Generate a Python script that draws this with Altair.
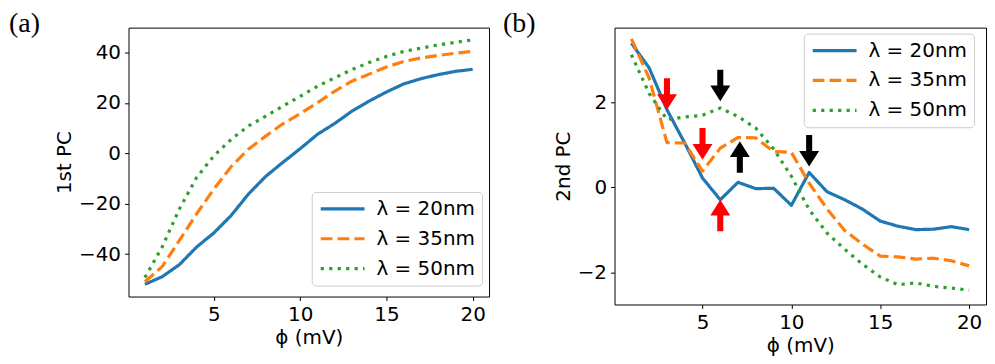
import altair as alt
import pandas as pd

phi = list(range(1, 21))
series_names = ["λ = 20nm", "λ = 35nm", "λ = 50nm"]
series_colors = ["#1f77b4", "#ff7f0e", "#2ca02c"]

pc1_20 = [-52, -49, -44.2, -37.2, -31.6, -24.7, -16.2, -9.2, -3.6, 1.8,
          7.5, 11.8, 16.7, 20.7, 24.3, 27.5, 29.6, 31.2, 32.5, 33.3]
pc1_35 = [-51, -45, -34.6, -24, -14.2, -5.3, 1.6, 6.8, 11.7, 15.7,
          20, 24.6, 28.6, 31.4, 34.2, 36.4, 37.8, 38.8, 39.7, 40.4]
pc1_50 = [-49.3, -37.2, -22.1, -9.6, -1, 5.5, 10.8, 14.7, 18.7, 22.6,
          26.6, 29.9, 33.2, 36, 38.4, 40.4, 41.7, 43, 44, 45]

pc2_20 = [3.38, 2.80, 1.82, 1.04, 0.22, -0.29, 0.12, -0.03, -0.02, -0.42,
          0.35, -0.1, -0.29, -0.51, -0.79, -0.91, -0.99, -0.98, -0.92, -0.99]
pc2_35 = [3.48, 2.56, 1.05, 1.04, 0.38, 0.92, 1.17, 1.16, 0.84, 0.82,
          0.1, -0.5, -1.01, -1.33, -1.61, -1.63, -1.68, -1.66, -1.72, -1.84]
pc2_50 = [3.11, 2.2, 1.59, 1.65, 1.69, 1.86, 1.66, 1.39, 0.9, 0.26,
          -0.52, -1.07, -1.45, -1.8, -2.1, -2.28, -2.24, -2.32, -2.36, -2.41]

arrow_phi = [3, 5, 6, 6, 7.1, 11]
arrow_tip = [1.82, 0.65, -0.29, 2.02, 1.08, 0.49]
arrow_dir = ["down", "down", "up", "down", "up", "down"]
arrow_col = ["red", "red", "red", "black", "black", "black"]


def long_df(cols):
    rows = []
    for name, vals in zip(series_names, cols):
        for p, v in zip(phi, vals):
            rows.append({"phi": p, "value": v, "series": name})
    return pd.DataFrame(rows)


df_a = long_df([pc1_20, pc1_35, pc1_50])
df_b = long_df([pc2_20, pc2_35, pc2_50])
df_arrows = pd.DataFrame({"phi": arrow_phi, "value": arrow_tip,
                          "dir": arrow_dir, "col": arrow_col})

FONT = "DejaVu Sans"
FS = 20
LW = 3.2
dash_range = [[1, 0], [11.8, 5.1], [3.2, 5.3]]

axis_style = dict(labelFontSize=FS, titleFontSize=FS, labelFont=FONT, titleFont=FONT,
                  labelColor="black", titleColor="black", titleFontWeight="normal",
                  labelPadding=4, tickColor="black", tickSize=4, tickWidth=1,
                  domain=False, grid=False)


def legend(x, y):
    return alt.Legend(
        title=None, orient="none", legendX=x, legendY=y,
        symbolType="stroke", symbolSize=1936, symbolStrokeWidth=LW,
        clipHeight=20, rowPadding=10, padding=7,
        labelFontSize=FS, labelFont=FONT, labelColor="black", labelOffset=10,
        strokeColor="#cccccc", cornerRadius=4, fillColor="rgba(255,255,255,0.8)",
    )


x_enc = alt.X("phi:Q", title="ϕ (mV)",
              scale=alt.Scale(domain=[0.05, 20.95], nice=False, zero=False),
              axis=alt.Axis(values=[5, 10, 15, 20], titlePadding=3, **axis_style))


def lines(df, ytitle, ydomain, yvalues, lx, ly):
    leg = legend(lx, ly)
    return alt.Chart(df).mark_line(strokeWidth=LW, strokeJoin="round").encode(
        x=x_enc,
        y=alt.Y("value:Q", title=ytitle,
                scale=alt.Scale(domain=ydomain, nice=False, zero=False),
                axis=alt.Axis(values=yvalues, titlePadding=4, **axis_style)),
        color=alt.Color("series:N", scale=alt.Scale(domain=series_names, range=series_colors),
                        legend=leg),
        strokeDash=alt.StrokeDash("series:N", scale=alt.Scale(domain=series_names, range=dash_range),
                                  legend=leg),
    )


def panel_label(txt, dx):
    return alt.Chart(pd.DataFrame({"t": [txt]})).mark_text(
        align="left", baseline="top", font="Liberation Serif", fontSize=28, color="black"
    ).encode(text="t:N", x=alt.value(dx), y=alt.value(-18))


path_down = "M0,0 L-0.625,-0.98 L-0.19,-0.98 L-0.19,-1.98 L0.19,-1.98 L0.19,-0.98 L0.625,-0.98 Z"
path_up = "M0,0 L-0.625,0.98 L-0.19,0.98 L-0.19,1.98 L0.19,1.98 L0.19,0.98 L0.625,0.98 Z"

arrows = alt.Chart(df_arrows).mark_point(filled=True, size=1024, opacity=1, strokeWidth=0).encode(
    x="phi:Q",
    y="value:Q",
    shape=alt.Shape("dir:N", scale=alt.Scale(domain=["down", "up"], range=[path_down, path_up]), legend=None),
    fill=alt.Fill("col:N", scale=alt.Scale(domain=["red", "black"], range=["#ff0000", "#000000"]), legend=None),
)

left = alt.layer(
    lines(df_a, "1st PC", [-56.85, 49.85], [-40, -20, 0, 20, 40], 184, 165),
    panel_label("(a)", -120),
).properties(width=362, height=270)

right = alt.layer(
    lines(df_b, "2nd PC", [-2.745, 3.745], [-2, 0, 2], 190, 6),
    arrows,
    panel_label("(b)", -112),
).properties(width=373, height=278)

chart = alt.hconcat(left, right, spacing=12).resolve_scale(
    color="independent", strokeDash="independent"
).resolve_legend(
    color="independent", strokeDash="independent"
).properties(padding=0).configure_view(
    stroke="black", strokeWidth=1
)

chart.save("out.html", embed_options={"renderer": "svg", "actions": False})
